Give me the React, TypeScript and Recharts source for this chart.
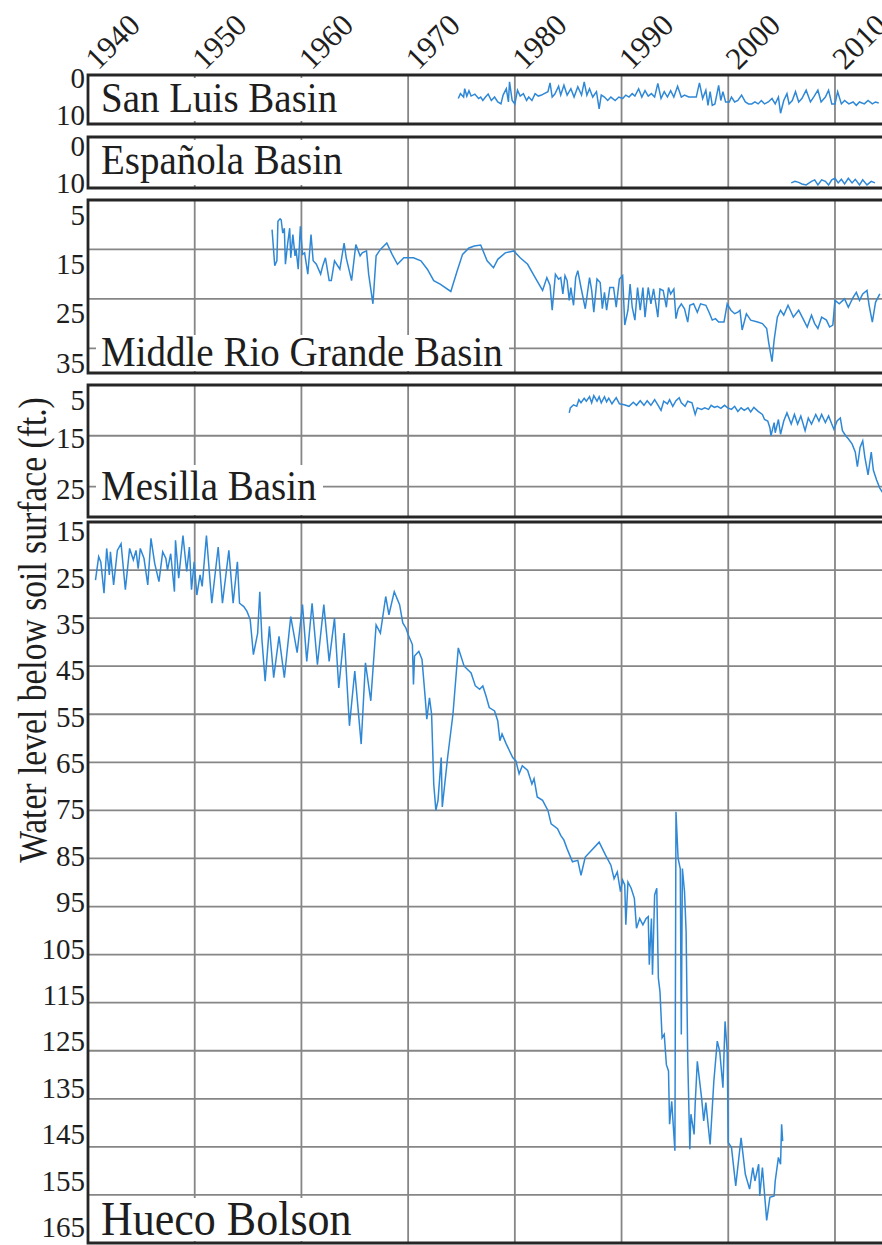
import React from 'react';
import { LineChart, Line, XAxis, YAxis, CartesianGrid, ReferenceArea } from 'recharts';

const FONT = "'Liberation Serif', 'Times New Roman', serif";
const YEAR_TICKS = [1940, 1950, 1960, 1970, 1980, 1990, 2000, 2010];
const GRID_YEARS = [1950, 1960, 1970, 1980, 1990, 2000, 2010];
const X_DOMAIN: [number, number] = [1940, 2016];
const Y_TITLE = 'Water level below soil surface (ft.)';

const SAN_LUIS: [number, number][] = [
  [1974.7, 4.8], [1974.9, 3.8], [1975.2, 4.5], [1975.3, 2.8], [1975.5, 4.3], [1975.7, 3.2], [1975.9, 4.3],
  [1976.25, 3.9], [1976.6, 4.8], [1976.8, 4.5], [1977.0, 5.2], [1977.25, 4.5], [1977.5, 3.9], [1977.8, 5.2],
  [1978.1, 4.5], [1978.4, 5.5], [1978.7, 5.9], [1978.9, 4.1], [1979.2, 2.8], [1979.4, 5.5], [1979.5, 1.4],
  [1979.75, 5.2], [1980.0, 5.9], [1980.25, 3.1], [1980.5, 4.3], [1980.8, 3.8], [1981.1, 5.2], [1981.3, 4.5],
  [1981.6, 5.2], [1981.9, 3.8], [1982.2, 4.3], [1982.5, 4.1], [1982.75, 3.8], [1983.1, 3.4], [1983.3, 1.6],
  [1983.5, 4.5], [1983.75, 3.9], [1984.1, 2.3], [1984.3, 4.1], [1984.6, 2.1], [1984.9, 4.1], [1985.25, 2.8],
  [1985.55, 4.5], [1985.9, 2.4], [1986.25, 4.1], [1986.5, 1.4], [1986.75, 4.1], [1987.0, 2.8], [1987.3, 4.5],
  [1987.65, 3.4], [1987.9, 6.9], [1988.1, 4.1], [1988.4, 4.5], [1988.7, 5.2], [1989.0, 4.5], [1989.4, 5.2],
  [1989.75, 4.5], [1990.1, 4.8], [1990.4, 4.1], [1990.7, 4.5], [1991.0, 3.8], [1991.25, 4.3], [1991.6, 2.8],
  [1991.9, 4.5], [1992.2, 3.2], [1992.5, 4.3], [1992.8, 3.8], [1993.1, 4.5], [1993.4, 1.7], [1993.7, 4.8],
  [1994.0, 3.4], [1994.3, 4.5], [1994.6, 3.2], [1994.9, 4.5], [1995.25, 2.3], [1995.6, 4.5], [1995.9, 4.1],
  [1996.3, 4.5], [1996.6, 4.5], [1997.0, 4.5], [1997.3, 1.6], [1997.6, 4.8], [1997.9, 3.1], [1998.1, 6.2],
  [1998.3, 3.4], [1998.5, 6.2], [1998.75, 5.9], [1999.1, 2.1], [1999.3, 5.2], [1999.5, 3.4], [1999.75, 5.5],
  [2000.1, 5.5], [2000.3, 4.5], [2000.6, 5.5], [2000.9, 5.2], [2001.25, 4.1], [2001.6, 5.5], [2001.9, 5.9],
  [2002.2, 5.9], [2002.5, 5.5], [2002.8, 5.9], [2003.1, 5.2], [2003.4, 5.9], [2003.75, 5.5], [2004.1, 4.8],
  [2004.4, 5.9], [2004.7, 4.5], [2004.9, 7.8], [2005.2, 5.2], [2005.5, 3.8], [2005.7, 5.9], [2006.0, 5.2],
  [2006.3, 3.4], [2006.6, 5.5], [2006.9, 4.8], [2007.3, 3.1], [2007.7, 5.5], [2008.0, 4.5], [2008.4, 3.1],
  [2008.7, 5.5], [2009.1, 4.5], [2009.4, 3.1], [2009.7, 5.9], [2010.0, 5.9], [2010.25, 3.4], [2010.6, 5.9],
  [2010.9, 5.2], [2011.3, 5.9], [2011.7, 5.5], [2012.0, 6.2], [2012.3, 5.5], [2012.75, 5.9], [2013.1, 5.2],
  [2013.5, 5.9], [2013.8, 5.5], [2014.1, 5.7],
];

const ESPANOLA: [number, number][] = [
  [2005.9, 9.0], [2006.25, 8.7], [2006.6, 8.9], [2006.9, 9.2], [2007.3, 9.4], [2007.8, 8.7], [2008.1, 8.4],
  [2008.4, 9.4], [2008.75, 8.4], [2009.1, 8.7], [2009.4, 9.4], [2009.7, 8.4], [2010.0, 8.1], [2010.3, 9.0],
  [2010.6, 8.3], [2010.9, 9.2], [2011.25, 8.1], [2011.6, 9.0], [2011.9, 8.3], [2012.3, 9.4], [2012.6, 8.4],
  [2013.0, 9.4], [2013.4, 8.7], [2013.75, 9.0],
];

const MIDDLE_RIO_GRANDE: [number, number][] = [
  [1957.25, 8.5], [1957.5, 15.8], [1957.7, 14.8], [1957.8, 6.8], [1958.0, 6.3], [1958.1, 6.5], [1958.25, 9.2],
  [1958.4, 8.2], [1958.5, 15.5], [1958.7, 11.5], [1958.9, 8.2], [1959.0, 14.2], [1959.2, 9.5], [1959.4, 13.8],
  [1959.5, 12.5], [1959.7, 16.5], [1959.9, 7.8], [1960.1, 13.5], [1960.3, 13.2], [1960.6, 17.5], [1960.9, 9.5],
  [1961.1, 14.8], [1961.4, 15.5], [1961.8, 17.5], [1962.0, 15.8], [1962.25, 14.2], [1962.6, 18.8], [1962.8, 18.8],
  [1963.1, 14.8], [1963.6, 16.5], [1964.0, 11.2], [1964.2, 14.2], [1964.7, 18.8], [1965.1, 11.5], [1965.5, 13.8],
  [1965.7, 13.2], [1966.1, 12.8], [1966.3, 17.5], [1966.7, 23.5], [1967.0, 13.8], [1967.4, 12.5], [1968.0, 11.2],
  [1968.5, 13.5], [1969.0, 15.5], [1969.6, 14.2], [1970.5, 14.2], [1971.2, 14.8], [1971.8, 16.5], [1972.4, 18.8],
  [1973.0, 19.5], [1974.0, 21.0], [1974.6, 16.8], [1975.1, 13.5], [1975.7, 12.2], [1976.2, 11.8], [1976.8, 11.6],
  [1977.4, 14.8], [1978.0, 16.2], [1978.4, 14.5], [1979.1, 13.2], [1979.9, 12.8], [1980.5, 14.2], [1981.2, 15.5],
  [1981.8, 17.8], [1982.6, 20.8], [1983.0, 18.2], [1983.3, 19.8], [1983.5, 24.8], [1983.8, 17.5], [1984.1, 18.5],
  [1984.3, 18.2], [1984.5, 21.5], [1984.7, 17.8], [1984.9, 18.8], [1985.1, 22.8], [1985.25, 20.2], [1985.5, 23.8],
  [1985.7, 18.2], [1985.9, 16.8], [1986.2, 20.2], [1986.6, 24.5], [1987.0, 18.2], [1987.2, 20.8], [1987.4, 25.2],
  [1987.7, 18.5], [1988.0, 19.2], [1988.2, 24.5], [1988.4, 21.2], [1988.6, 24.8], [1988.9, 20.2], [1989.25, 20.2],
  [1989.5, 24.2], [1989.8, 18.5], [1990.1, 17.8], [1990.3, 27.8], [1990.6, 24.8], [1990.8, 19.5], [1991.0, 24.2],
  [1991.25, 26.8], [1991.5, 20.2], [1991.75, 24.8], [1992.0, 20.2], [1992.2, 26.2], [1992.5, 20.2], [1992.75, 23.5],
  [1993.0, 20.5], [1993.4, 26.2], [1993.6, 20.5], [1993.9, 20.8], [1994.2, 24.2], [1994.4, 20.2], [1994.6, 21.5],
  [1994.9, 20.5], [1995.1, 26.5], [1995.3, 24.5], [1995.6, 23.5], [1995.9, 24.5], [1996.2, 27.2], [1996.4, 23.8],
  [1996.75, 23.5], [1997.1, 25.2], [1997.4, 23.5], [1997.9, 23.8], [1998.2, 25.2], [1998.5, 26.8], [1998.8, 26.5],
  [1999.1, 27.2], [1999.6, 27.2], [1999.9, 23.5], [2000.25, 24.8], [2000.6, 25.5], [2000.9, 25.2], [2001.1, 24.8],
  [2001.3, 28.8], [2001.7, 25.5], [2002.1, 26.8], [2002.75, 27.2], [2003.2, 27.5], [2003.6, 28.5], [2003.8, 31.5],
  [2004.1, 35.2], [2004.3, 30.8], [2004.6, 26.2], [2004.9, 24.8], [2005.2, 25.8], [2005.6, 23.8], [2005.9, 25.2],
  [2006.1, 26.2], [2006.6, 24.8], [2007.0, 26.5], [2007.4, 28.2], [2007.8, 25.8], [2008.1, 27.5], [2008.4, 28.5],
  [2008.75, 26.2], [2009.2, 26.8], [2009.5, 28.2], [2009.8, 27.8], [2010.0, 22.8], [2010.4, 23.5], [2010.9, 22.5],
  [2011.25, 24.2], [2011.7, 22.2], [2012.0, 21.2], [2012.3, 22.8], [2012.6, 21.5], [2013.0, 20.8], [2013.2, 23.8],
  [2013.5, 27.2], [2013.8, 23.2], [2014.2, 21.5],
];

const MESILLA: [number, number][] = [
  [1985.1, 10.5], [1985.2, 9.5], [1985.5, 8.9], [1985.8, 9.2], [1986.0, 7.9], [1986.2, 8.5], [1986.5, 7.6],
  [1986.7, 8.2], [1987.0, 7.3], [1987.2, 8.5], [1987.4, 7.1], [1987.7, 8.2], [1987.9, 7.3], [1988.1, 8.5],
  [1988.4, 7.3], [1988.6, 8.3], [1988.8, 7.6], [1989.1, 8.7], [1989.5, 7.5], [1989.8, 8.7], [1990.25, 8.9],
  [1990.7, 9.2], [1991.1, 8.4], [1991.4, 9.0], [1991.75, 8.1], [1992.1, 9.0], [1992.4, 8.1], [1992.75, 9.0],
  [1993.1, 7.9], [1993.4, 8.9], [1993.7, 10.0], [1993.95, 8.2], [1994.3, 8.7], [1994.5, 7.9], [1994.8, 9.2],
  [1995.1, 8.1], [1995.4, 7.5], [1995.6, 8.5], [1995.95, 9.2], [1996.2, 8.2], [1996.6, 8.5], [1996.9, 10.8],
  [1997.1, 9.5], [1997.5, 9.8], [1997.8, 9.5], [1998.15, 9.8], [1998.4, 9.0], [1998.7, 9.4], [1999.0, 9.2],
  [1999.3, 9.6], [1999.65, 9.0], [1999.95, 9.5], [2000.3, 9.8], [2000.6, 9.2], [2000.9, 10.2], [2001.2, 9.5],
  [2001.5, 10.0], [2001.85, 9.5], [2002.1, 10.3], [2002.4, 9.4], [2002.8, 10.2], [2003.2, 10.8], [2003.4, 11.8],
  [2003.7, 12.1], [2003.9, 13.4], [2004.0, 15.0], [2004.3, 12.4], [2004.4, 14.4], [2004.7, 11.8], [2004.9, 14.7],
  [2005.2, 12.1], [2005.5, 10.5], [2005.9, 12.7], [2006.2, 10.8], [2006.5, 12.7], [2006.8, 11.1], [2007.2, 14.0],
  [2007.5, 11.5], [2007.8, 12.7], [2008.2, 10.8], [2008.5, 12.1], [2008.75, 10.8], [2009.1, 12.4], [2009.4, 11.1],
  [2009.7, 12.7], [2009.9, 13.7], [2010.2, 12.1], [2010.5, 11.5], [2010.7, 14.0], [2011.0, 15.0], [2011.25, 15.6],
  [2011.6, 16.6], [2011.9, 18.2], [2012.1, 21.1], [2012.35, 17.3], [2012.6, 16.0], [2012.8, 19.2], [2013.1, 22.7],
  [2013.4, 18.2], [2013.6, 21.8], [2013.9, 23.7], [2014.2, 25.3], [2014.5, 26.3],
];

const HUECO_BOLSON: [number, number][] = [
  [1940.7, 27.1], [1941.0, 22.2], [1941.2, 23.3], [1941.5, 29.8], [1941.75, 20.5], [1942.0, 26.0], [1942.1, 21.2],
  [1942.4, 28.1], [1942.75, 20.9], [1943.1, 19.5], [1943.5, 29.1], [1943.9, 20.5], [1944.25, 22.9], [1944.5, 20.9],
  [1944.7, 24.7], [1944.9, 20.5], [1945.25, 22.6], [1945.6, 28.1], [1945.9, 18.4], [1946.25, 23.6], [1946.65, 27.4],
  [1947.0, 21.2], [1947.3, 22.6], [1947.45, 25.0], [1947.75, 21.6], [1948.1, 29.5], [1948.2, 18.8], [1948.5, 26.7],
  [1948.9, 17.8], [1949.25, 25.3], [1949.5, 20.2], [1949.7, 29.1], [1949.95, 23.3], [1950.2, 30.2], [1950.5, 26.0],
  [1950.7, 28.4], [1951.1, 17.8], [1951.6, 31.9], [1952.2, 20.2], [1952.6, 31.9], [1953.2, 20.9], [1953.6, 31.9],
  [1954.0, 23.3], [1954.2, 31.9], [1954.6, 32.6], [1954.9, 33.6], [1955.2, 35.3], [1955.5, 42.6], [1955.9, 38.1],
  [1956.1, 29.5], [1956.3, 39.5], [1956.6, 48.1], [1957.0, 36.7], [1957.4, 47.4], [1957.9, 38.8], [1958.4, 47.4],
  [1959.0, 34.7], [1959.6, 42.2], [1960.1, 32.2], [1960.5, 44.0], [1961.0, 31.9], [1961.5, 44.7], [1962.1, 32.2],
  [1962.6, 44.0], [1963.1, 35.0], [1963.5, 49.5], [1964.0, 38.1], [1964.5, 57.4], [1965.0, 46.0], [1965.6, 61.2],
  [1966.0, 44.3], [1966.5, 52.2], [1967.0, 36.4], [1967.4, 38.1], [1967.9, 30.5], [1968.2, 34.3], [1968.7, 29.5],
  [1969.2, 32.2], [1969.5, 36.0], [1969.8, 37.1],
  [1970.0, 38.4], [1970.4, 40.5], [1970.5, 48.8], [1970.6, 42.9], [1971.0, 41.9], [1971.3, 43.6], [1971.6, 51.6],
  [1971.75, 56.0], [1972.0, 51.6], [1972.2, 55.0], [1972.4, 69.5], [1972.6, 75.0], [1972.8, 72.9], [1973.1, 64.0],
  [1973.2, 74.3], [1973.7, 64.0], [1974.2, 55.0], [1974.7, 41.2], [1975.25, 45.0], [1975.9, 46.4], [1976.3, 49.1],
  [1976.7, 49.8], [1977.0, 49.1], [1977.3, 51.2], [1977.6, 53.6], [1978.1, 54.3], [1978.4, 56.4], [1978.6, 60.5],
  [1978.8, 59.1], [1979.2, 61.2], [1979.8, 64.0], [1980.1, 64.7], [1980.4, 67.4], [1980.7, 65.7], [1981.2, 66.7],
  [1981.6, 69.5], [1981.8, 68.4], [1982.1, 72.2], [1982.6, 72.9], [1983.1, 75.0],
  [1983.4, 77.8], [1984.0, 78.8], [1984.3, 80.2], [1984.6, 81.2], [1984.9, 83.0], [1985.4, 85.7], [1985.9, 85.4],
  [1986.2, 88.5], [1986.6, 84.7], [1987.9, 81.6], [1988.5, 84.3], [1989.0, 86.4], [1989.3, 89.2], [1989.6, 87.8],
  [1989.9, 91.9], [1990.1, 89.5], [1990.3, 90.5], [1990.4, 98.8], [1990.6, 89.9], [1990.9, 91.2], [1991.2, 93.3],
  [1991.4, 99.5], [1991.7, 97.5], [1992.0, 98.8], [1992.3, 97.5], [1992.5, 97.1], [1992.6, 107.1], [1992.8, 97.5],
  [1992.9, 109.2], [1993.1, 92.6], [1993.3, 91.2], [1993.45, 109.9], [1993.6, 112.7], [1993.8, 122.3], [1994.0, 121.6],
  [1994.2, 127.9], [1994.4, 129.2], [1994.5, 140.3], [1994.7, 135.5], [1995.0, 145.8], [1995.1, 75.3], [1995.3, 85.0],
  [1995.5, 87.1], [1995.6, 121.6], [1995.7, 87.1], [1995.9, 91.9], [1996.05, 100.2], [1996.2, 126.5], [1996.4, 145.5],
  [1996.5, 138.2], [1996.8, 142.4], [1996.9, 136.1], [1997.1, 127.2], [1997.5, 134.8], [1997.7, 139.6], [1997.9, 135.8],
  [1998.3, 144.5], [1998.65, 131.3], [1998.97, 123.0], [1999.2, 125.1], [1999.5, 132.7], [1999.7, 118.9], [1999.9, 125.1],
  [2000.0, 144.1], [2000.3, 145.1], [2000.7, 153.1], [2001.2, 143.1], [2001.6, 150.7], [2002.0, 153.8], [2002.3, 149.3],
  [2002.5, 152.1], [2002.85, 148.6], [2002.95, 155.2], [2003.2, 149.3], [2003.6, 160.3], [2003.9, 155.5], [2004.3, 155.2],
  [2004.4, 152.1], [2004.7, 147.2], [2004.9, 148.6], [2005.0, 140.3], [2005.1, 143.8],
];

const SAN_LUIS_TICKS = [0, 10];
const ESPANOLA_TICKS = [0, 10];
const MIDDLE_TICKS = [5, 15, 25, 35];
const MIDDLE_GRID = [12.5, 22.5, 32.5];
const MESILLA_TICKS = [5, 15, 25];
const MESILLA_GRID = [15, 25];
const HUECO_TICKS = [15, 25, 35, 45, 55, 65, 75, 85, 95, 105, 115, 125, 135, 145, 155, 165];
const HUECO_GRID = [25, 35, 45, 55, 65, 75, 85, 95, 105, 115, 125, 135, 145, 155];

type Panel = {
  title: string;
  series: [number, number][];
  top: number;
  bottom: number;
  domain: [number, number];
  ticks: number[];
  grid: number[];
  labelY: (y: number, top: number, bottom: number) => number;
  titleSize: number;
  baseline: number;
  boxTop: number;
  boxBottom: number;
};

const clamp = (v: number, a: number, b: number) => Math.max(a, Math.min(b, v));

const PANELS: Panel[] = [
  { title: 'San Luis Basin', series: SAN_LUIS, top: 75, bottom: 124, domain: [0, 10], ticks: SAN_LUIS_TICKS, grid: [],
    labelY: (y, t, b) => clamp(y, t + 3, b - 9), titleSize: 39, baseline: 112, boxTop: 78, boxBottom: 121 },
  { title: 'Española Basin', series: ESPANOLA, top: 137, bottom: 188, domain: [0, 10], ticks: ESPANOLA_TICKS, grid: [],
    labelY: (y, t, b) => clamp(y, t + 9, b - 5), titleSize: 39, baseline: 174, boxTop: 140, boxBottom: 185 },
  { title: 'Middle Rio Grande Basin', series: MIDDLE_RIO_GRANDE, top: 200, bottom: 373, domain: [2.5, 37.5], ticks: MIDDLE_TICKS, grid: MIDDLE_GRID,
    labelY: (y) => y + 2, titleSize: 39, baseline: 366, boxTop: 335, boxBottom: 371 },
  { title: 'Mesilla Basin', series: MESILLA, top: 385, bottom: 517, domain: [5, 31], ticks: MESILLA_TICKS, grid: MESILLA_GRID,
    labelY: (y, t) => Math.max(y + 2, t + 15), titleSize: 39, baseline: 500, boxTop: 465, boxBottom: 515 },
  { title: 'Hueco Bolson', series: HUECO_BOLSON, top: 522, bottom: 1243, domain: [15, 165], ticks: HUECO_TICKS, grid: HUECO_GRID,
    labelY: (y, t) => t + 9 + (y - t) * 0.965, titleSize: 44, baseline: 1236, boxTop: 1198, boxBottom: 1241 },
];

const CHART_W = 899;
const AXIS_W = 88;
const LINE_COLOR = '#2f88d6';
const GRID_COLOR = '#868686';
const BORDER_COLOR = '#262626';
const TEXT_COLOR = '#1e1e1e';

function PanelChart({ p, first }: { p: Panel; first: boolean }) {
  const chartTop = first ? 0 : p.top;
  const height = p.bottom - chartTop;
  const rows = p.series.map(([year, v]) => ({ year, v }));
  const plotTop = first ? p.top : 0;
  const plotBottom = p.bottom - chartTop;
  return (
    <div style={{ position: 'absolute', left: 0, top: chartTop }}>
      <LineChart width={CHART_W} height={height} data={rows} margin={{ top: first ? 5 : 0, right: 0, bottom: 0, left: 0 }}>
        <CartesianGrid
          horizontal={p.grid.length > 0}
          horizontalValues={p.grid}
          verticalValues={GRID_YEARS}
          stroke={GRID_COLOR}
          strokeWidth={1.8}
        />
        <XAxis
          type="number"
          dataKey="year"
          domain={X_DOMAIN}
          allowDataOverflow
          ticks={YEAR_TICKS}
          interval={0}
          orientation="top"
          hide={!first}
          height={first ? p.top - 5 : 0}
          axisLine={false}
          tickLine={false}
          tick={(tp: any) => (
            <text
              key={tp.payload.value}
              transform={`translate(${tp.x + 10}, 71) rotate(-45)`}
              style={{ fontFamily: FONT }}
              fontSize={31}
              fill={TEXT_COLOR}
              textAnchor="start"
            >
              {tp.payload.value}
            </text>
          )}
        />
        <YAxis
          type="number"
          domain={p.domain}
          reversed
          allowDataOverflow
          ticks={p.ticks}
          interval={0}
          width={AXIS_W}
          axisLine={false}
          tickLine={false}
          tick={(tp: any) => (
            <text
              key={tp.payload.value}
              x={85}
              y={p.labelY(tp.y, plotTop, plotBottom)}
              dy="0.35em"
              style={{ fontFamily: FONT }}
              fontSize={29}
              fill={TEXT_COLOR}
              textAnchor="end"
            >
              {tp.payload.value}
            </text>
          )}
        />
        <ReferenceArea
          x1={X_DOMAIN[0]}
          x2={X_DOMAIN[1]}
          y1={p.domain[0]}
          y2={p.domain[1]}
          fill="none"
          fillOpacity={0}
          stroke={BORDER_COLOR}
          strokeWidth={2.8}
        />
        <Line
          type="linear"
          dataKey="v"
          stroke={LINE_COLOR}
          strokeWidth={1.5}
          dot={false}
          activeDot={false}
          isAnimationActive={false}
        />
      </LineChart>
    </div>
  );
}

function PanelTitle({ p }: { p: Panel }) {
  const fs = p.titleSize;
  const textTop = p.baseline - 0.8375 * fs - p.boxTop;
  return (
    <div
      style={{
        position: 'absolute',
        left: 96,
        top: p.boxTop,
        height: p.boxBottom - p.boxTop,
        background: '#ffffff',
        overflow: 'visible',
      }}
    >
      <div
        style={{
          position: 'relative',
          top: textTop,
          padding: '0 6px 0 5px',
          fontFamily: FONT,
          fontSize: fs,
          lineHeight: `${fs}px`,
          color: TEXT_COLOR,
          whiteSpace: 'nowrap',
          transform: 'scaleY(1.1)',
          transformOrigin: `50% ${0.8375 * fs}px`,
        }}
      >
        {p.title}
      </div>
    </div>
  );
}

export default function App() {
  return (
    <div
      style={{
        position: 'absolute',
        left: 0,
        top: 0,
        width: 882,
        height: 1245,
        overflow: 'hidden',
        background: '#ffffff',
        fontFamily: FONT,
      }}
    >
      <style>{`.recharts-surface{overflow:visible}`}</style>
      {PANELS.map((p, i) => (
        <PanelChart key={p.title} p={p} first={i === 0} />
      ))}
      {PANELS.map((p) => (
        <PanelTitle key={p.title + '-title'} p={p} />
      ))}
      <div
        style={{
          position: 'absolute',
          left: 33,
          top: 630,
          transform: 'translate(-50%, -50%) rotate(-90deg) scaleX(0.84)',
          fontFamily: FONT,
          fontSize: 40,
          lineHeight: '40px',
          color: TEXT_COLOR,
          whiteSpace: 'nowrap',
        }}
      >
        {Y_TITLE}
      </div>
    </div>
  );
}
